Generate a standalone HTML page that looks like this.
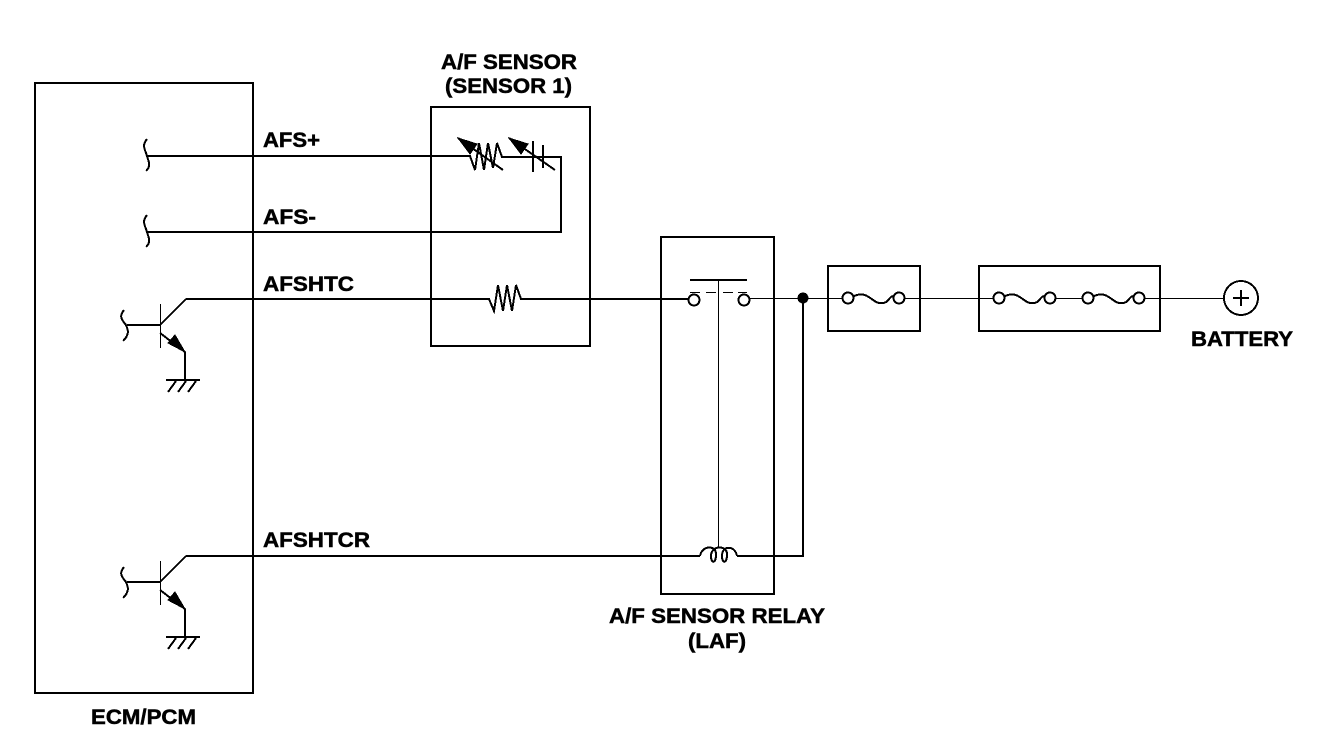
<!DOCTYPE html>
<html><head><meta charset="utf-8"><style>
html,body{margin:0;padding:0;background:#fff}
svg{display:block}
text{font-family:"Liberation Sans",sans-serif;font-weight:bold;font-size:21px;fill:#000;stroke:#000;stroke-width:.5px}
</style></head><body>
<svg width="1328" height="744" viewBox="0 0 1328 744" xmlns="http://www.w3.org/2000/svg" fill="none" stroke="#000" stroke-width="2" shape-rendering="crispEdges">
<path d="M35 82V694M253 82V694M431 106V347M590 106V347M661 236V595M774 236V595"/>
<path d="M35 83H253M35 693H253M431 107H590M431 346H590M661 237H774M661 594H774"/>
<rect x="828" y="266" width="92" height="65"/>
<rect x="979" y="266" width="181" height="65"/>

<path d="M147 156H470L475 170L479 143L484 170L488 143L493 168L497 143L502 157H561V232H147"/>
<path d="M147 139C141 146 146 151 147 156C148 161 152 165 146 171"/>
<path d="M147 215C141 222 146 227 147 232C148 237 152 241 146 247"/>
<path d="M458 138L503 170M509 138L555 170"/>
<path d="M458 138L477 144L470 154Z M509 138L528 144L521 154Z" fill="#000" stroke-width="1"/>
<path d="M533 141V172M543 145V168"/>

<path d="M127 325H160M186 299H489L494 311L498 285L503 311L507 285L512 311L516 285L521 299H688M160 325L186 299"/>
<path d="M124 310C118 317 123 321 126 325C128 330 130 334 123 341"/>
<path d="M160.5 304V348" stroke-width="1"/>
<path d="M160 333L185 352V380"/>
<path d="M185 352L168 343L175 335Z" fill="#000" stroke-width="1"/>
<path d="M166 380H200"/>
<path d="M168 392L176 381M178 392L186 381M188 392L196 381"/>

<path d="M127 582H160M186 556H700M737 556H803V298M160 582L186 556"/>
<path d="M124 567C118 574 123 578 126 582C128 587 130 591 123 598"/>
<path d="M160.5 561V605" stroke-width="1"/>
<path d="M160 590L185 609V637"/>
<path d="M185 609L168 600L175 592Z" fill="#000" stroke-width="1"/>
<path d="M166 637H200"/>
<path d="M168 649L176 638M178 649L186 638M188 649L196 638"/>

<path d="M700 556C702 545 716 545 716 554C716 564 711 564 711 556C711 545 727 545 727 554C727 564 722 564 722 556C722 545 735 545 737 556"/>

<path d="M749 298.5H843M904 298.5H994M1055 298.5H1083M1144 298.5H1224" stroke-width="1"/>
<path d="M690 280H747"/>
<path d="M718.5 280V548" stroke-width="1"/>
<path d="M690 292.5H700M706 292.5H716M723 292.5H733M738 292.5H747" stroke-width="1"/>
<circle cx="694" cy="300" r="5.5" fill="#fff"/>
<circle cx="744" cy="300" r="5.5" fill="#fff"/>
<circle cx="803" cy="298" r="5.5" fill="#000" stroke="none"/>

<path d="M854 296C868 290 872 303 880 303C890 304 888 296 894 296"/>
<circle cx="848" cy="298" r="5.5" fill="#fff"/>
<circle cx="899" cy="298" r="5.5" fill="#fff"/>
<path d="M1005 296C1019 290 1023 303 1031 303C1041 304 1039 296 1045 296"/>
<circle cx="999" cy="298" r="5.5" fill="#fff"/>
<circle cx="1050" cy="298" r="5.5" fill="#fff"/>
<path d="M1094 296C1108 290 1112 303 1120 303C1130 304 1128 296 1134 296"/>
<circle cx="1088" cy="298" r="5.5" fill="#fff"/>
<circle cx="1139" cy="298" r="5.5" fill="#fff"/>

<circle cx="1241" cy="298" r="17" fill="#fff"/>
<path d="M1233 298H1249M1241 290V306"/>

<g shape-rendering="auto">
<text x="441" y="69" textLength="136" lengthAdjust="spacingAndGlyphs">A/F SENSOR</text>
<text x="445" y="93" textLength="127" lengthAdjust="spacingAndGlyphs">(SENSOR 1)</text>
<text x="263" y="147" textLength="57" lengthAdjust="spacingAndGlyphs">AFS+</text>
<text x="263" y="224" textLength="53" lengthAdjust="spacingAndGlyphs">AFS-</text>
<text x="263" y="291" textLength="91" lengthAdjust="spacingAndGlyphs">AFSHTC</text>
<text x="263" y="547" textLength="107" lengthAdjust="spacingAndGlyphs">AFSHTCR</text>
<text x="1191" y="346" textLength="102" lengthAdjust="spacingAndGlyphs">BATTERY</text>
<text x="609" y="623" textLength="216" lengthAdjust="spacingAndGlyphs">A/F SENSOR RELAY</text>
<text x="688" y="648" textLength="58" lengthAdjust="spacingAndGlyphs">(LAF)</text>
<text x="91" y="724" textLength="105" lengthAdjust="spacingAndGlyphs">ECM/PCM</text>
</g>
</svg>
</body></html>
